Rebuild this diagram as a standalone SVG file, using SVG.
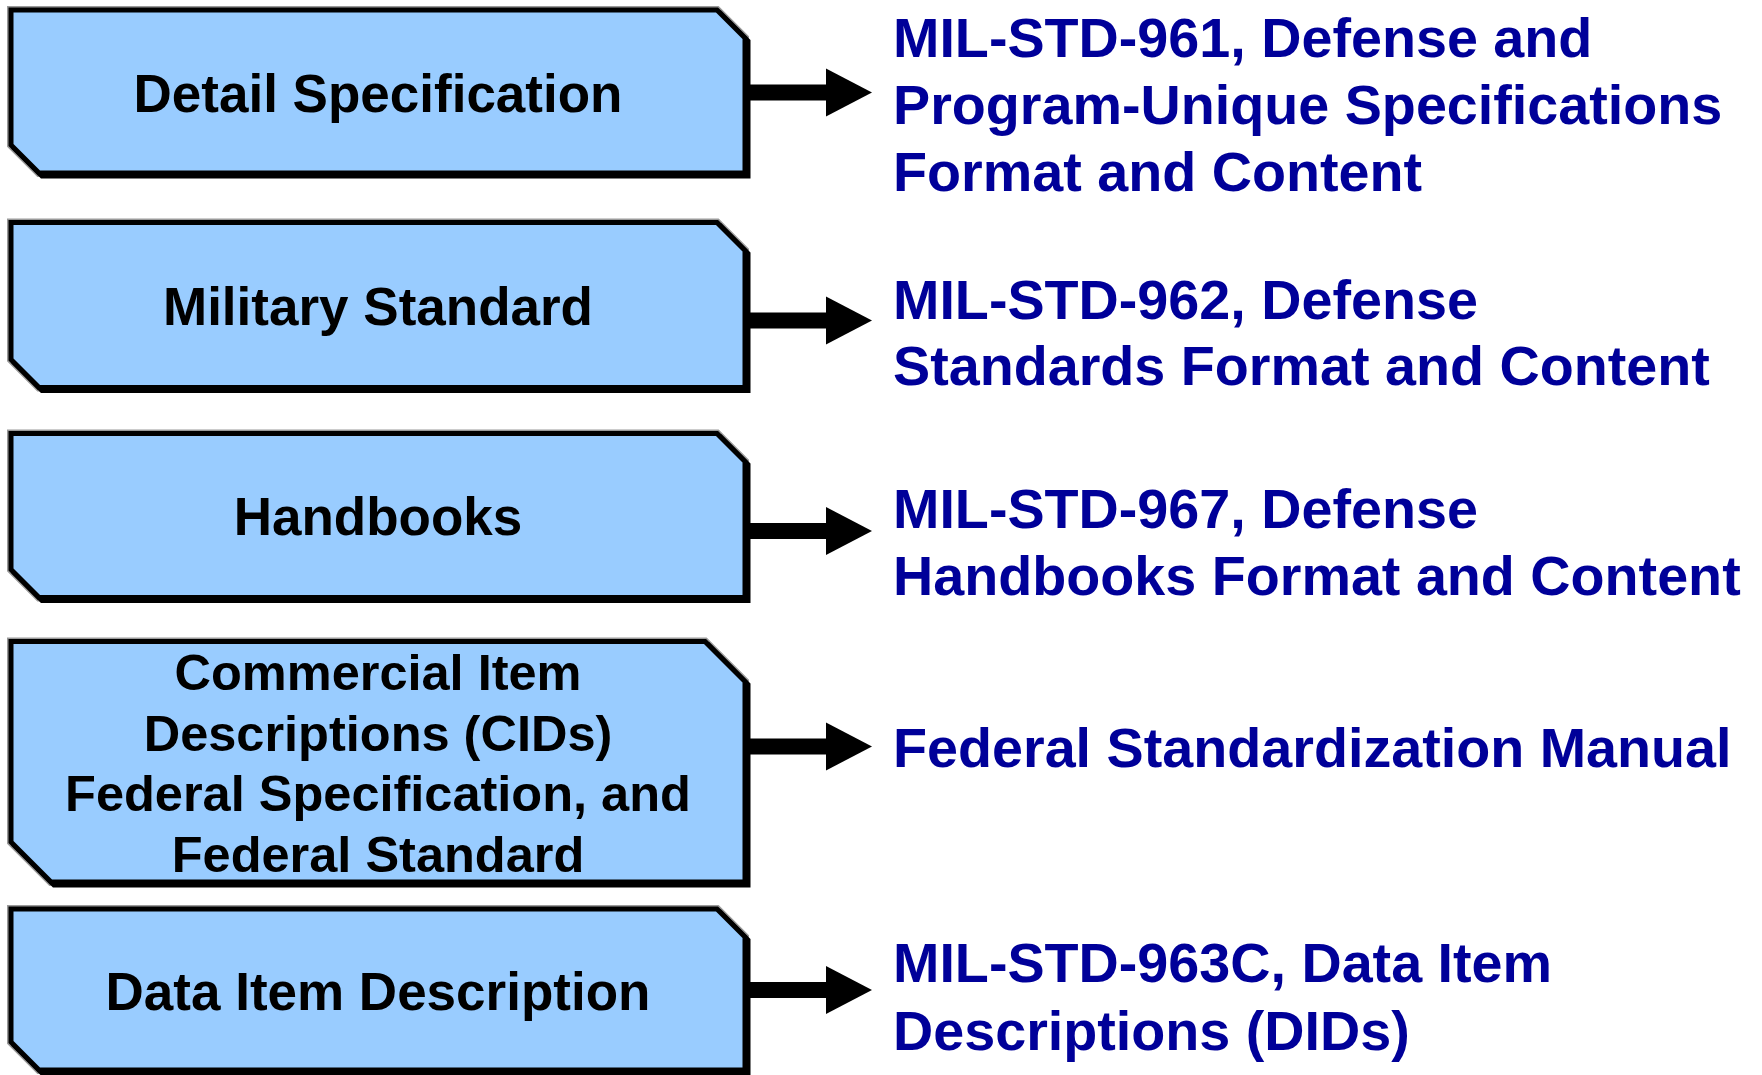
<svg xmlns="http://www.w3.org/2000/svg" width="1762" height="1075" viewBox="0 0 1762 1075">
  <defs>
    <marker id="head" markerUnits="userSpaceOnUse" markerWidth="46" markerHeight="48" refX="0" refY="24" orient="auto" overflow="visible">
      <path d="M0,0 L46,24 L0,48 Z" fill="#000"/>
    </marker>
  </defs>
  <style>
    .shadow { fill: #000; stroke: #000; stroke-width: 5; stroke-linejoin: miter; }
    .box { fill: #99CCFF; stroke: #000; stroke-width: 5; stroke-linejoin: miter; }
    .halo { fill: none; stroke: #9a9a9a; stroke-width: 8; stroke-linejoin: miter; }
    .lbl { font-family: "Liberation Sans", Arial, Helvetica, sans-serif; font-weight: bold; font-size: 53px; fill: #000; text-anchor: middle; }
    .lbl4 { font-size: 50.5px; }
    .ref { font-family: "Liberation Sans", Arial, Helvetica, sans-serif; font-weight: bold; font-size: 55.7px; fill: #000099; }
    .conn { stroke: #000; stroke-width: 16; fill: none; marker-end: url(#head); }
  </style>
  <rect width="1762" height="1075" fill="#fff"/>

  <g id="node-detail-spec">
    <polygon class="halo" points="11,10 717,10 745,38 745,173 39,173 11,145"/>
    <polygon class="shadow" transform="translate(3,3)" points="11,10 717,10 745,38 745,173 39,173 11,145"/>
    <polygon class="box" points="11,10 717,10 745,38 745,173 39,173 11,145"/>
    <text class="lbl" x="378" y="112">Detail Specification</text>
  </g>

  <g id="node-military-std">
    <polygon class="halo" points="11,222.5 717,222.5 745,250.5 745,387.5 39,387.5 11,359.5"/>
    <polygon class="shadow" transform="translate(3,3)" points="11,222.5 717,222.5 745,250.5 745,387.5 39,387.5 11,359.5"/>
    <polygon class="box" points="11,222.5 717,222.5 745,250.5 745,387.5 39,387.5 11,359.5"/>
    <text class="lbl" x="378" y="325">Military Standard</text>
  </g>

  <g id="node-handbooks">
    <polygon class="halo" points="11,433.5 717,433.5 745,461.5 745,597.5 39,597.5 11,569.5"/>
    <polygon class="shadow" transform="translate(3,3)" points="11,433.5 717,433.5 745,461.5 745,597.5 39,597.5 11,569.5"/>
    <polygon class="box" points="11,433.5 717,433.5 745,461.5 745,597.5 39,597.5 11,569.5"/>
    <text class="lbl" x="378" y="535">Handbooks</text>
  </g>

  <g id="node-cids">
    <polygon class="halo" points="11,641.5 705,641.5 745,681.5 745,882 51,882 11,842"/>
    <polygon class="shadow" transform="translate(3,3)" points="11,641.5 705,641.5 745,681.5 745,882 51,882 11,842"/>
    <polygon class="box" points="11,641.5 705,641.5 745,681.5 745,882 51,882 11,842"/>
    <text class="lbl lbl4" x="378" y="690">Commercial Item</text>
    <text class="lbl lbl4" x="378" y="750.5">Descriptions (CIDs)</text>
    <text class="lbl lbl4" x="378" y="811">Federal Specification, and</text>
    <text class="lbl lbl4" x="378" y="871.5">Federal Standard</text>
  </g>

  <g id="node-did">
    <polygon class="halo" points="11,909 717,909 745,937 745,1070 39,1070 11,1042"/>
    <polygon class="shadow" transform="translate(3,3)" points="11,909 717,909 745,937 745,1070 39,1070 11,1042"/>
    <polygon class="box" points="11,909 717,909 745,937 745,1070 39,1070 11,1042"/>
    <text class="lbl" x="378" y="1010">Data Item Description</text>
  </g>

  <g id="connectors">
    <line class="conn" x1="748" y1="92.5" x2="826" y2="92.5"/>
    <line class="conn" x1="748" y1="320.5" x2="826" y2="320.5"/>
    <line class="conn" x1="748" y1="531" x2="826" y2="531"/>
    <line class="conn" x1="748" y1="746.5" x2="826" y2="746.5"/>
    <line class="conn" x1="748" y1="990" x2="826" y2="990"/>
  </g>

  <g id="ref-961">
    <text class="ref" x="893" y="57">MIL-STD-961, Defense and</text>
    <text class="ref" x="893" y="124">Program-Unique Specifications</text>
    <text class="ref" x="893" y="191">Format and Content</text>
  </g>
  <g id="ref-962">
    <text class="ref" x="893" y="318.5">MIL-STD-962, Defense</text>
    <text class="ref" x="893" y="384.5">Standards Format and Content</text>
  </g>
  <g id="ref-967">
    <text class="ref" x="893" y="527.5">MIL-STD-967, Defense</text>
    <text class="ref" x="893" y="594.5">Handbooks Format and Content</text>
  </g>
  <g id="ref-fsm">
    <text class="ref" x="893" y="767">Federal Standardization Manual</text>
  </g>
  <g id="ref-963c">
    <text class="ref" x="893" y="982">MIL-STD-963C, Data Item</text>
    <text class="ref" x="893" y="1050">Descriptions (DIDs)</text>
  </g>
</svg>
